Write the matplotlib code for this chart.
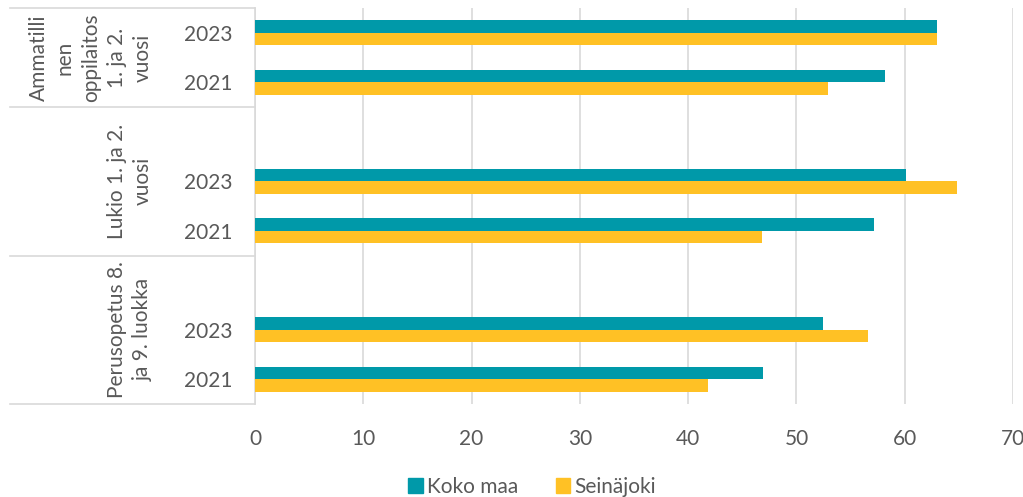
import matplotlib.pyplot as plt
import matplotlib.transforms as mtransforms
from matplotlib.patches import Patch

plt.rcParams['font.family'] = ['Lato', 'DejaVu Sans']

# data, bottom to top as drawn
groups = ["Perusopetus 8.\nja 9. luokka", "Lukio 1. ja 2.\nvuosi",
          "Ammatilli\nnen\noppilaitos\n1. ja 2.\nvuosi"]
years = ["2021", "2023"]
koko_maa = [46.9, 52.5, 57.2, 60.1, 58.2, 63.0]
seinajoki = [41.8, 56.6, 46.8, 64.8, 52.9, 63.0]
x_ticks = [0, 10, 20, 30, 40, 50, 60, 70]

teal = '#0099A9'
yellow = '#FFC125'
grey_txt = '#595959'
grid_col = '#D9D9D9'

# build slot positions: each group gets 2021, 2023 and an empty slot (except the last)
pos, labels, group_span = [], [], []
p = 0
for gi, g in enumerate(groups):
    start = p
    for y in years:
        pos.append(p)
        labels.append(y)
        p += 1
    if gi < len(groups) - 1:
        p += 1
    group_span.append((start - 0.5, p - 0.5))
n_slots = p

fig = plt.figure(figsize=(10.23, 4.97), dpi=100)
ax = fig.add_axes([255 / 1023, 1 - 404 / 497, 758 / 1023, 396 / 497])

h = 0.254
ax.barh([q + h / 2 for q in pos], koko_maa, height=h, color=teal, label='Koko maa', zorder=3)
ax.barh([q - h / 2 for q in pos], seinajoki, height=h, color=yellow, label='Seinäjoki', zorder=3)

ax.set_xlim(0, 70)
ax.set_ylim(-0.5, n_slots - 0.5)
ax.set_xticks(x_ticks)
ax.set_yticks(pos)
ax.set_yticklabels(labels)
ax.tick_params(axis='both', length=0, labelsize=15, colors=grey_txt)
ax.tick_params(axis='y', pad=16)
ax.tick_params(axis='x', pad=18)
ax.grid(axis='x', color=grid_col, lw=1.2, zorder=0)
for s in ['top', 'right', 'bottom']:
    ax.spines[s].set_visible(False)
ax.spines['left'].set_color(grid_col)
ax.spines['left'].set_linewidth(1.2)

# multi-level category axis: separator lines and rotated group labels
tr = mtransforms.blended_transform_factory(fig.transFigure, ax.transData)
x_left = 10 / 1023
x_axis = 255 / 1023
bounds = [-0.5] + [s[1] for s in group_span]
for b in bounds:
    ax.plot([x_left, x_axis], [b, b], transform=tr, color=grid_col, lw=1.2, clip_on=False)
for g, (a, b) in zip(groups, group_span):
    ax.text(153 / 1023, (a + b) / 2, g, transform=tr, rotation=90, ha='right', va='center',
            multialignment='center', fontsize=15, color=grey_txt, linespacing=1.38)

handles = [Patch(color=teal, label='Koko maa'), Patch(color=yellow, label='Seinäjoki')]
fig.legend(handles=handles, loc='center', bbox_to_anchor=(532 / 1023, 1 - 487 / 497),
           ncol=2, frameon=False, fontsize=15, handlelength=0.7, handleheight=0.7,
           handletextpad=0.2, columnspacing=1.8, labelcolor=grey_txt)

fig.savefig('out.png', dpi=100)
